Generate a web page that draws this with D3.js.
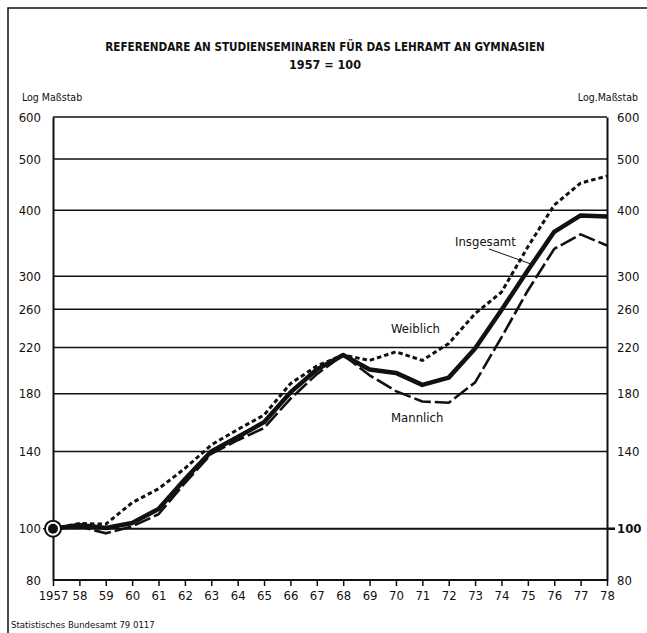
<!DOCTYPE html>
<html>
<head>
<meta charset="utf-8">
<script src="https://cdn.jsdelivr.net/npm/d3@7"></script>
<style>
  html, body { margin: 0; padding: 0; background: #fff; }
  svg { display: block; }
  text { font-family: "DejaVu Sans Condensed", "Liberation Sans Narrow", "Arial Narrow", sans-serif; fill: #111; }
</style>
</head>
<body>
<svg id="chart" width="647" height="633"></svg>
<script>
// ---- data ----
const years = d3.range(1957, 1979);
const yearLabels = ["1957","58","59","60","61","62","63","64","65","66","67","68","69","70","71","72","73","74","75","76","77","78"];
const insgesamt = [100, 101.6, 100.3, 102.5, 109, 124, 140, 149, 159, 181, 200, 213, 200, 197, 187, 193, 219, 259, 308, 364, 391, 389];
const weiblich  = [100, 102.3, 102, 112, 119, 130, 144, 154, 164, 188, 203, 213, 208, 216, 208, 224, 255, 280, 341, 409, 450, 464];
const maennlich = [100, 101, 98, 101, 106.5, 122, 138.5, 147, 155, 176, 196, 213, 195, 182, 174, 173, 189, 230, 282, 338, 360, 343];
const yTicks = [80, 100, 140, 180, 220, 260, 300, 400, 500, 600];
const titleText = "REFERENDARE AN STUDIENSEMINAREN FÜR DAS LEHRAMT AN GYMNASIEN";
const subtitleText = "1957 = 100";
const scaleNoteLeft = "Log Maßstab";
const scaleNoteRight = "Log.Maßstab";
const sourceText = "Statistisches Bundesamt 79 0117";

(function () {
// ---- layout ----
const svg = d3.select("#chart");
const pL = 53, pR = 607, pT = 117, pB = 580;
const x = d3.scaleLinear().domain([1957, 1978]).range([pL, pR]);
const y = d3.scaleLog().domain([80, 600]).range([pB, pT]);

// outer frame
svg.append("path").attr("d", "M8,633 L8,8 L647,8")
  .attr("fill", "none").attr("stroke", "#111").attr("stroke-width", 1.5);

// title
svg.append("text").attr("x", 325).attr("y", 51).attr("text-anchor", "middle")
  .attr("font-size", 11.6).attr("font-weight", "bold")
  .text(titleText);
svg.append("text").attr("x", 325).attr("y", 69).attr("text-anchor", "middle")
  .attr("font-size", 12.5).attr("font-weight", "bold")
  .text(subtitleText);

svg.append("text").attr("x", 22).attr("y", 101).attr("font-size", 10.5).text(scaleNoteLeft);
svg.append("text").attr("x", 638).attr("y", 101).attr("text-anchor", "end").attr("font-size", 10.5).text(scaleNoteRight);

// gridlines
svg.append("g").selectAll("line").data(yTicks).join("line")
  .attr("x1", pL).attr("x2", pR)
  .attr("y1", d => y(d)).attr("y2", d => y(d))
  .attr("stroke", "#111").attr("stroke-width", d => d === 100 ? 2 : 1.5);

// left axis
const leftAxis = d3.axisLeft(y).tickValues(yTicks).tickFormat(d3.format("d"))
  .tickSize(0).tickPadding(12);
const gL = svg.append("g").attr("transform", `translate(${pL},0)`).call(leftAxis);
gL.select(".domain").attr("stroke", "#111").attr("stroke-width", 2);
gL.selectAll("text").attr("font-size", 13).attr("font-family", null);

// right axis
const rightAxis = d3.axisRight(y).tickValues(yTicks).tickFormat(d3.format("d"))
  .tickSize(0).tickPadding(10);
const gR = svg.append("g").attr("transform", `translate(${pR},0)`).call(rightAxis);
gR.select(".domain").attr("stroke", "#111").attr("stroke-width", 2);
gR.selectAll("text").attr("font-size", 13).attr("font-family", null)
  .attr("font-weight", d => d === 100 ? "bold" : null);

// short ticks at 100
svg.append("line").attr("x1", pL - 10).attr("x2", pL).attr("y1", y(100)).attr("y2", y(100))
  .attr("stroke", "#111").attr("stroke-width", 1.5);
svg.append("line").attr("x1", pR).attr("x2", pR + 8).attr("y1", y(100)).attr("y2", y(100))
  .attr("stroke", "#111").attr("stroke-width", 2.5);

// bottom axis
const bottomAxis = d3.axisBottom(x).tickValues(years)
  .tickFormat((d, i) => yearLabels[i]).tickSize(6).tickPadding(5);
const gB = svg.append("g").attr("transform", `translate(0,${pB})`).call(bottomAxis);
gB.select(".domain").attr("stroke", "#111").attr("stroke-width", 2).attr("d", `M${pL},0H${pR}`);
gB.selectAll(".tick line").attr("stroke", "#111").attr("stroke-width", 1.5);
gB.selectAll("text").attr("font-size", 13).attr("font-family", null);

// lines
const line = d3.line().x((d, i) => x(years[i])).y(d => y(d));
svg.append("path").datum(maennlich).attr("d", line)
  .attr("fill", "none").attr("stroke", "#111").attr("stroke-width", 2.6)
  .attr("stroke-dasharray", "17,4").attr("stroke-linejoin", "round");
svg.append("path").datum(weiblich).attr("d", line)
  .attr("fill", "none").attr("stroke", "#111").attr("stroke-width", 3)
  .attr("stroke-dasharray", "4.5,3").attr("stroke-linejoin", "round");
svg.append("path").datum(insgesamt).attr("d", line)
  .attr("fill", "none").attr("stroke", "#111").attr("stroke-width", 4.5)
  .attr("stroke-linejoin", "round");

// base marker
svg.append("circle").attr("cx", x(1957)).attr("cy", y(100)).attr("r", 8)
  .attr("fill", "#fff").attr("stroke", "#111").attr("stroke-width", 2);
svg.append("circle").attr("cx", x(1957)).attr("cy", y(100)).attr("r", 5)
  .attr("fill", "#111");

// series labels
svg.append("text").attr("x", 455).attr("y", 246).attr("font-size", 13).text("Insgesamt");
svg.append("line").attr("x1", 489).attr("y1", 249).attr("x2", 531).attr("y2", 264)
  .attr("stroke", "#111").attr("stroke-width", 1);
svg.append("text").attr("x", 391).attr("y", 333).attr("font-size", 13).text("Weiblich");
svg.append("text").attr("x", 391).attr("y", 422).attr("font-size", 13).text("Mannlich");

// source
svg.append("text").attr("x", 11).attr("y", 628).attr("font-size", 9.5).text(sourceText);
})();
</script>
</body>
</html>
